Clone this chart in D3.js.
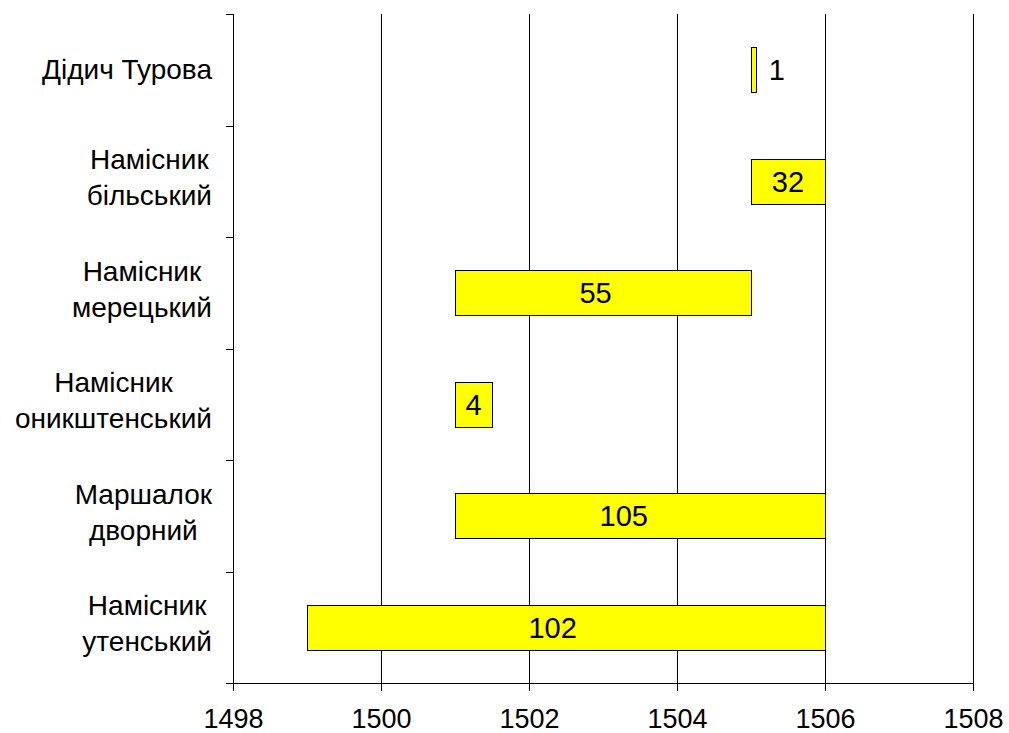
<!DOCTYPE html>
<html>
<head>
<meta charset="utf-8">
<script src="https://cdn.jsdelivr.net/npm/d3@7"></script>
<style>
  body { margin: 0; background: #fff; }
  text { font-family: "Liberation Sans", Arial, sans-serif; fill: #000; }
</style>
</head>
<body>
<script>
const width = 1009, height = 733;
const margin = {top: 14, right: 36, bottom: 50, left: 233};

// data
const categories = ["Дідич Турова", "Намісник\nбільський", "Намісник\nмерецький",
                    "Намісник\nоникштенський", "Маршалок\nдворний", "Намісник\nутенський"];
const startYears = [1505, 1505, 1501, 1501, 1501, 1499];
const endYears   = [1505.07, 1506, 1505, 1501.5, 1506, 1506];
const values     = [1, 32, 55, 4, 105, 102];
// where each value label sits (in years)
const labelYears = [1505.35, 1505.5, 1502.9, 1501.25, 1503.28, 1502.32];
const xTicks     = [1498, 1500, 1502, 1504, 1506, 1508];

const data = categories.map((c, i) => ({cat: c, x0: startYears[i], x1: endYears[i], v: values[i], lx: labelYears[i]}));

const svg = d3.select("body").append("svg")
    .attr("width", width)
    .attr("height", height);

const xMax = 973 - margin.left;
const yMax = 683 - margin.top;

const g = svg.append("g")
    .attr("transform", "translate(" + margin.left + "," + margin.top + ")");

let x = d3.scaleLinear().domain([1498, 1508]).range([0, xMax]);
let y = d3.scaleBand().domain(categories).range([0, yMax]).paddingInner(0.6).paddingOuter(0.3);

// vertical gridlines
g.selectAll(".grid")
    .data(xTicks.slice(1))
    .enter().append("line")
    .attr("class", "grid")
    .attr("x1", d => Math.round(x(d)) + 0.5)
    .attr("x2", d => Math.round(x(d)) + 0.5)
    .attr("y1", 0)
    .attr("y2", yMax)
    .attr("stroke", "#000")
    .attr("stroke-width", 1);

// bars
g.selectAll(".bar")
    .data(data)
    .enter().append("rect")
    .attr("class", "bar")
    .attr("x", d => Math.round(x(d.x0)) + 0.5)
    .attr("y", d => Math.round(y(d.cat)) + 0.5)
    .attr("width", d => Math.max(3, Math.round(x(d.x1) - x(d.x0))))
    .attr("height", Math.round(y.bandwidth()))
    .attr("fill", "#ffff00")
    .attr("stroke", "#000")
    .attr("stroke-width", 1);

// value labels
g.selectAll(".val")
    .data(data)
    .enter().append("text")
    .attr("class", "val")
    .attr("x", d => x(d.lx))
    .attr("y", d => y(d.cat) + y.bandwidth() / 2)
    .attr("dy", "0.36em")
    .attr("text-anchor", "middle")
    .style("font-size", "29px")
    .text(d => d.v);

// x axis
const xAxis = g.append("g")
    .attr("transform", "translate(0," + yMax + ")")
    .call(d3.axisBottom(x).tickValues(xTicks).tickFormat(d3.format("d")).tickSize(8).tickPadding(18));
xAxis.select(".domain").attr("d", "M-6,0.5H" + xMax);
xAxis.selectAll("text").style("font-size", "27px").attr("dy", "0.71em");

// y axis: ticks at band edges
const edges = categories.map(c => y(c) - y.step() * y.paddingInner() / 2);
edges[0] = 0;
edges.push(yMax);
const yAx = g.append("g");
yAx.append("line")
    .attr("x1", 0.5).attr("x2", 0.5)
    .attr("y1", 0).attr("y2", yMax + 8)
    .attr("stroke", "#000");
yAx.selectAll(".ytick")
    .data(edges)
    .enter().append("line")
    .attr("class", "ytick")
    .attr("x1", -7).attr("x2", 0)
    .attr("y1", d => Math.round(d) + 0.5)
    .attr("y2", d => Math.round(d) + 0.5)
    .attr("stroke", "#000");

// category labels, lines centred on each other, block right-aligned
const lineH = 36;
const rightEdge = 212 - margin.left;
categories.forEach(c => {
    const lines = c.split("\n");
    const cy = y(c) + y.bandwidth() / 2 - (lines.length > 1 ? 4 : 1);
    const t = g.append("text")
        .attr("text-anchor", "middle")
        .style("font-size", "28px");
    const spans = lines.map((l, i) => t.append("tspan")
        .attr("y", cy + (i - (lines.length - 1) / 2) * lineH)
        .attr("dy", "0.36em")
        .text(l));
    const maxW = d3.max(spans, s => s.node().getComputedTextLength());
    spans.forEach(s => s.attr("x", rightEdge - maxW / 2));
});
</script>
</body>
</html>
